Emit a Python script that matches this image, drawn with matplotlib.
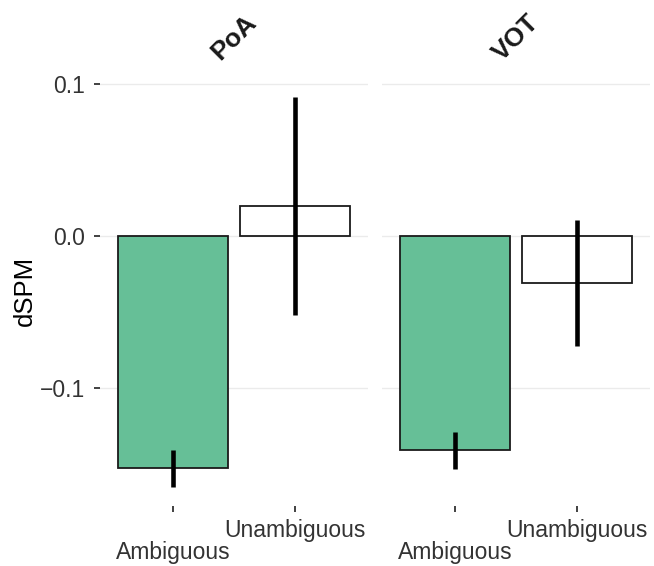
import numpy as np
import matplotlib
matplotlib.use('Agg')
import matplotlib.pyplot as plt

plt.rcParams['font.family'] = ['Liberation Sans', 'DejaVu Sans']

# valores
categorias = ['Ambiguous', 'Unambiguous']
paineis = ['PoA', 'VOT']
medias = {'PoA': [-0.1525, 0.0197], 'VOT': [-0.1408, -0.0309]}
err_baixo = {'PoA': [-0.165, -0.052], 'VOT': [-0.1533, -0.0724]}
err_alto = {'PoA': [-0.141, 0.0914], 'VOT': [-0.129, 0.0105]}
cores = ['#66BF97', 'white']

fig = plt.figure(figsize=(6.54, 5.66), dpi=100)
W, H = 654, 566
topo, base = 78.5, 506
posicoes = [(100, 368), (382, 650)]

texto_cor = '#333333'
fs = 16.5

for i, painel in enumerate(paineis):
    x0, x1 = posicoes[i]
    ax = fig.add_axes([x0 / W, (H - base) / H, (x1 - x0) / W, (base - topo) / H])
    x = np.arange(1, len(categorias) + 1)
    m = np.array(medias[painel])
    lo = np.array(err_baixo[painel])
    hi = np.array(err_alto[painel])

    ax.bar(x, m, width=0.9, color=cores, edgecolor='#1a1a1a', linewidth=1.3, zorder=2)
    ax.errorbar(x, m, yerr=[m - lo, hi - m], fmt='none', ecolor='black',
                elinewidth=3.3, capsize=0, zorder=3)

    ax.set_xlim(0.4, 2.6)
    ax.set_ylim(-0.1778, 0.1036)
    ax.set_yticks([-0.1, 0.0, 0.1])
    ax.yaxis.grid(True, color='#EBEBEB', linewidth=1.0, zorder=0)
    ax.set_axisbelow(True)
    for s in ax.spines.values():
        s.set_visible(False)

    ax.set_xticks(x)
    ax.set_xticklabels(categorias)
    ax.tick_params(axis='x', length=4.5, width=1.3, color=texto_cor,
                   labelsize=fs, labelcolor=texto_cor, pad=5)
    ax.xaxis.get_major_ticks()[0].set_pad(21)

    if i == 0:
        ax.set_yticklabels(['\u22120.1', '0.0', '0.1'])
        ax.tick_params(axis='y', length=4.5, width=1.3, color=texto_cor,
                       labelsize=fs, labelcolor=texto_cor, pad=6)
    else:
        ax.tick_params(axis='y', length=0, labelleft=False)

    ax.text(0.5, 1.095, painel, transform=ax.transAxes, rotation=45,
            ha='center', va='center', fontsize=19, fontweight='bold', color='#1a1a1a')

fig.text(25 / W, (H - 291) / H, 'dSPM', rotation=90, ha='center', va='center',
         fontsize=18.5, color='black')

plt.savefig('out.png', dpi=100)
